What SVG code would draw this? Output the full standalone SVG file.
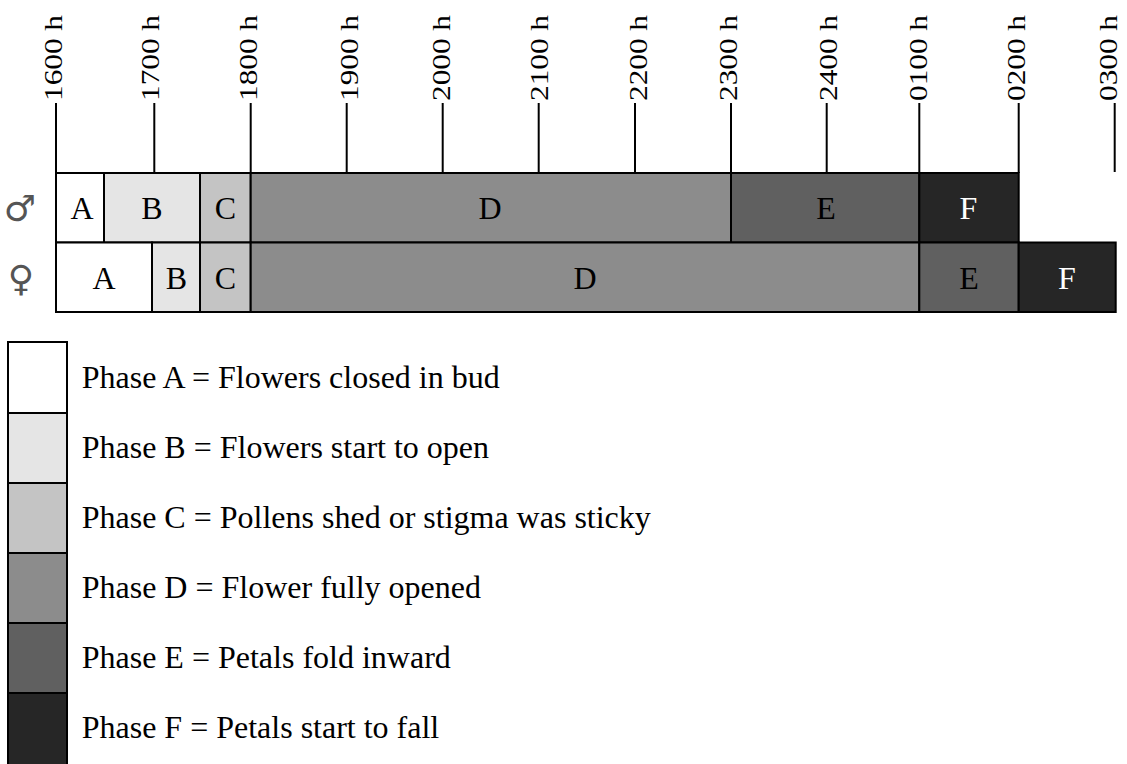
<svg xmlns="http://www.w3.org/2000/svg" width="1127" height="764" viewBox="0 0 1127 764">
<style>
.tick{stroke:#000;stroke-width:2;fill:none}
.cell{stroke:#000;stroke-width:2}
.lbl{font-family:"Liberation Serif","Times New Roman",serif;font-size:32px;fill:#000;text-anchor:middle}
.tl{font-family:"Liberation Serif","Times New Roman",serif;font-size:24.5px;fill:#000}
.lg{font-family:"Liberation Serif","Times New Roman",serif;font-size:32px;fill:#000}
.sym{font-family:"DejaVu Sans",sans-serif;font-size:36px;fill:#555;text-anchor:middle}
.pA{fill:#ffffff}.pB{fill:#e5e5e5}.pC{fill:#c4c4c4}.pD{fill:#8c8c8c}.pE{fill:#606060}.pF{fill:#262626}
</style>
<rect width="1127" height="764" fill="#fff"/>
<g id="axis">
<line class="tick" x1="56" y1="103" x2="56" y2="173"/>
<line class="tick" x1="154.3" y1="103" x2="154.3" y2="173"/>
<line class="tick" x1="250.7" y1="103" x2="250.7" y2="173"/>
<line class="tick" x1="346.7" y1="103" x2="346.7" y2="173"/>
<line class="tick" x1="442.7" y1="103" x2="442.7" y2="173"/>
<line class="tick" x1="538.7" y1="103" x2="538.7" y2="173"/>
<line class="tick" x1="635" y1="103" x2="635" y2="173"/>
<line class="tick" x1="731" y1="103" x2="731" y2="173"/>
<line class="tick" x1="826.7" y1="103" x2="826.7" y2="173"/>
<line class="tick" x1="919.3" y1="103" x2="919.3" y2="173"/>
<line class="tick" x1="1018.7" y1="103" x2="1018.7" y2="173"/>
<line class="tick" x1="1114.7" y1="103" x2="1114.7" y2="172"/>
<text class="tl" transform="translate(62,101) rotate(-90)" textLength="86" lengthAdjust="spacingAndGlyphs">1600 h</text>
<text class="tl" transform="translate(158.5,101) rotate(-90)" textLength="86" lengthAdjust="spacingAndGlyphs">1700 h</text>
<text class="tl" transform="translate(257,101) rotate(-90)" textLength="86" lengthAdjust="spacingAndGlyphs">1800 h</text>
<text class="tl" transform="translate(357.5,101) rotate(-90)" textLength="86" lengthAdjust="spacingAndGlyphs">1900 h</text>
<text class="tl" transform="translate(450,101) rotate(-90)" textLength="86" lengthAdjust="spacingAndGlyphs">2000 h</text>
<text class="tl" transform="translate(548.3,101) rotate(-90)" textLength="86" lengthAdjust="spacingAndGlyphs">2100 h</text>
<text class="tl" transform="translate(646.7,101) rotate(-90)" textLength="86" lengthAdjust="spacingAndGlyphs">2200 h</text>
<text class="tl" transform="translate(736.7,101) rotate(-90)" textLength="86" lengthAdjust="spacingAndGlyphs">2300 h</text>
<text class="tl" transform="translate(836.7,101) rotate(-90)" textLength="86" lengthAdjust="spacingAndGlyphs">2400 h</text>
<text class="tl" transform="translate(926.7,101) rotate(-90)" textLength="86" lengthAdjust="spacingAndGlyphs">0100 h</text>
<text class="tl" transform="translate(1025,101) rotate(-90)" textLength="86" lengthAdjust="spacingAndGlyphs">0200 h</text>
<text class="tl" transform="translate(1116.7,101) rotate(-90)" textLength="86" lengthAdjust="spacingAndGlyphs">0300 h</text>
</g>
<g id="male">
<text class="sym" x="20" y="221">♂</text>
<rect class="cell pA" x="56" y="173" width="48" height="69.5"/>
<rect class="cell pB" x="104" y="173" width="96" height="69.5"/>
<rect class="cell pC" x="200" y="173" width="50.7" height="69.5"/>
<rect class="cell pD" x="250.7" y="173" width="480.3" height="69.5"/>
<rect class="cell pE" x="731" y="173" width="188.3" height="69.5"/>
<rect class="cell pF" x="919.3" y="173" width="99.4" height="69.5"/>
<text class="lbl" x="82" y="218.5">A</text>
<text class="lbl" x="152" y="218.5">B</text>
<text class="lbl" x="225.3" y="218.5">C</text>
<text class="lbl" x="490" y="218.5">D</text>
<text class="lbl" x="826" y="218.5">E</text>
<text class="lbl" x="968.5" y="218.5" style="fill:#fff">F</text>
</g>
<g id="female">
<text class="sym" x="21" y="291">♀</text>
<rect class="cell pA" x="56" y="242.5" width="96" height="69.5"/>
<rect class="cell pB" x="152" y="242.5" width="48" height="69.5"/>
<rect class="cell pC" x="200" y="242.5" width="50.7" height="69.5"/>
<rect class="cell pD" x="250.7" y="242.5" width="668.6" height="69.5"/>
<rect class="cell pE" x="919.3" y="242.5" width="99.4" height="69.5"/>
<rect class="cell pF" x="1018.7" y="242.5" width="97" height="69.5"/>
<text class="lbl" x="104" y="288.5">A</text>
<text class="lbl" x="176.5" y="288.5">B</text>
<text class="lbl" x="225.3" y="288.5">C</text>
<text class="lbl" x="585" y="288.5">D</text>
<text class="lbl" x="969" y="288.5">E</text>
<text class="lbl" x="1067" y="288.5" style="fill:#fff">F</text>
</g>
<g id="legend">
<rect class="cell pA" x="8" y="342" width="59" height="71"/>
<rect class="cell pB" x="8" y="413" width="59" height="70"/>
<rect class="cell pC" x="8" y="483" width="59" height="70"/>
<rect class="cell pD" x="8" y="553" width="59" height="70"/>
<rect class="cell pE" x="8" y="623" width="59" height="70"/>
<rect class="cell pF" x="8" y="693" width="59" height="80"/>
<text class="lg" x="81.7" y="388.3">Phase A = Flowers closed in bud</text>
<text class="lg" x="81.7" y="457.5">Phase B = Flowers start to open</text>
<text class="lg" x="81.7" y="528">Phase C = Pollens shed or stigma was sticky</text>
<text class="lg" x="81.7" y="598">Phase D = Flower fully opened</text>
<text class="lg" x="81.7" y="668">Phase E = Petals fold inward</text>
<text class="lg" x="81.7" y="737.5">Phase F = Petals start to fall</text>
</g>
</svg>
